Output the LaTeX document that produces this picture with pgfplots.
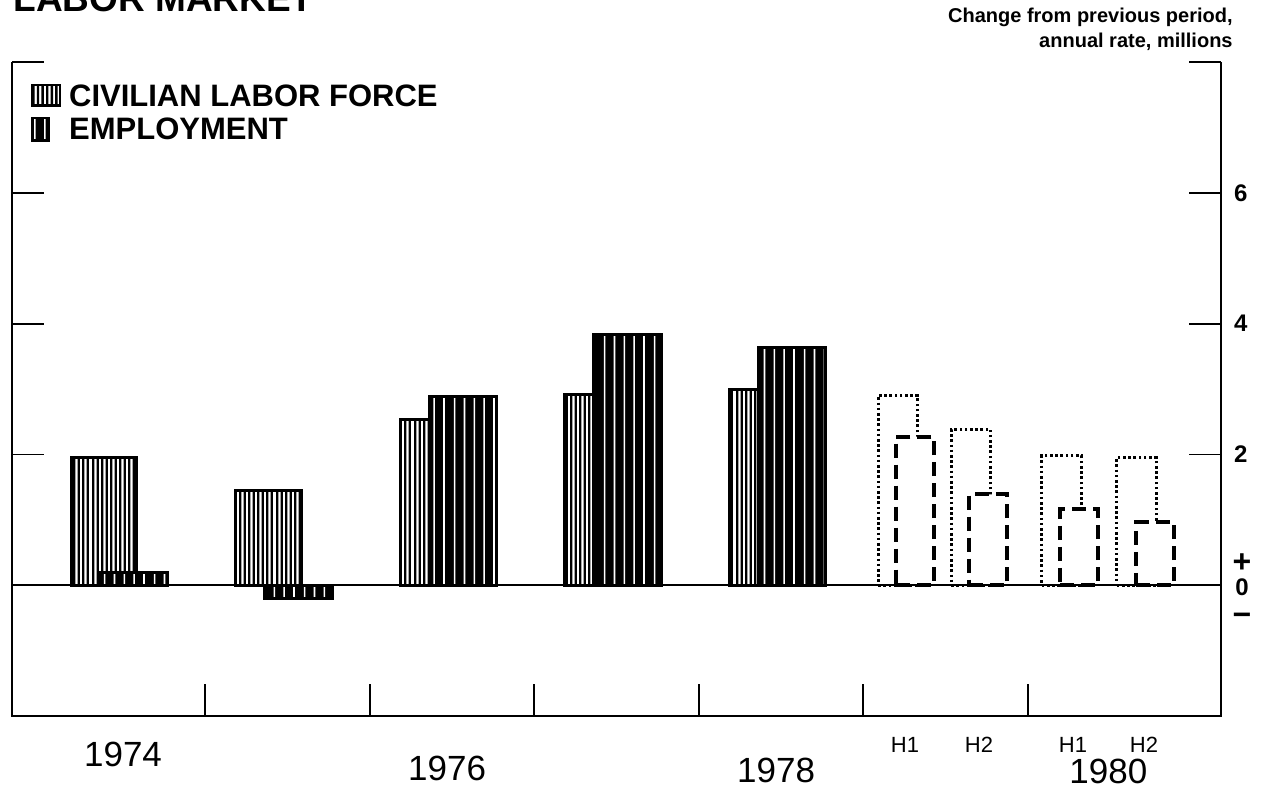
\documentclass[border=0pt]{standalone}
\usepackage{pgfplots}
\pgfplotsset{compat=1.18}
\usepackage{fontspec}
\setmainfont{Liberation Sans}
\usetikzlibrary{patterns}

\pgfdeclarepatterninherentlycolored{lfpat}{\pgfpointorigin}{\pgfqpoint{23pt}{400pt}}{\pgfqpoint{23pt}{400pt}}{%
  \pgfsetfillcolor{white}\pgfpathrectangle{\pgfpointorigin}{\pgfqpoint{23pt}{400pt}}\pgfusepath{fill}%
  \pgfsetfillcolor{black}%
  \foreach \i in {0,...,9}{\pgfpathrectangle{\pgfpoint{\i*2.3pt}{0pt}}{\pgfqpoint{1.2pt}{400pt}}}%
  \pgfusepath{fill}}
\pgfdeclarepatterninherentlycolored{emppat}{\pgfpointorigin}{\pgfqpoint{25pt}{400pt}}{\pgfqpoint{25pt}{400pt}}{%
  \pgfsetfillcolor{black}\pgfpathrectangle{\pgfpointorigin}{\pgfqpoint{25pt}{400pt}}\pgfusepath{fill}%
  \pgfsetfillcolor{white}%
  \foreach \i in {0,...,4}{\pgfpathrectangle{\pgfpoint{\i*5pt+2pt}{0pt}}{\pgfqpoint{0.8pt}{400pt}}}%
  \pgfusepath{fill}}

\newcommand\legfont{\bfseries\fontsize{15.5}{18}\selectfont}
\newcommand\yearfont{\fontsize{17.5}{19}\selectfont}
\newcommand\hfont{\fontsize{11}{13}\selectfont}
\newcommand\tickfont{\bfseries\fontsize{12}{14}\selectfont}
\newcommand\pmfont{\bfseries\fontsize{16}{16}\selectfont}

\pgfplotstableread{
x y
1973.884 1.95
1974.884 1.45
1975.884 2.53
1976.884 2.92
1977.884 3.00
}\lfsolid
\pgfplotstableread{
x y
1974.067 0.20
1975.067 -0.20
1976.067 2.88
1977.067 3.83
1978.067 3.63
}\empsolid
\pgfplotstableread{
x y
1978.711 2.90
1979.155 2.38
1979.705 1.98
1980.161 1.95
}\lfproj
\pgfplotstableread{
x y
1978.815 2.27
1979.258 1.39
1979.812 1.16
1980.274 0.96
}\empproj

\begin{document}
\begin{tikzpicture}
\begin{axis}[
  at={(6pt,36pt)}, anchor=south west,
  scale only axis, width=604.5pt, height=327pt,
  xmin=1973.325, xmax=1980.675, ymin=-2, ymax=8,
  axis line style={draw=none},
  xtick={1974.5,1975.5,1976.5,1977.5,1978.5,1979.5}, xticklabels={},
  xtick pos=bottom,
  ytick={2,4,6,8}, ytick pos=both, yticklabel pos=right,
  yticklabels={2,4,6,{}},
  yticklabel style={font=\tickfont, xshift=3pt},
  tick align=inside, major tick length=16pt,
  tick style={black, line width=0.9pt},
  clip=false,
  legend style={at={(0.0155,0.983)}, anchor=north west, draw=none, fill=none,
    inner sep=0pt, font=\legfont, row sep=-2.5pt,
    nodes={inner sep=0.5pt}},
  legend cell align=left,
]
\addplot[ybar, bar width=0.40, bar shift=0pt, draw=black, line width=1.5pt, pattern=lfpat,
  legend image code/.code={\draw[overlay, pattern=lfpat, line width=1.2pt] (0.6pt,-4.4pt) rectangle (14.4pt,5.9pt);\path[draw=none, fill=none] (0pt,0pt) rectangle (18.5pt,11.6pt);}]
  table[x=x,y=y] {\lfsolid};
\addlegendentry{CIVILIAN LABOR FORCE}
\addplot[ybar, bar width=0.41, bar shift=0pt, draw=black, line width=1.5pt, pattern=emppat,
  legend image code/.code={\draw[overlay, pattern=emppat, line width=1.2pt] (0.6pt,-4.9pt) rectangle (8.6pt,6.4pt);\path[draw=none, fill=none] (0pt,0pt) rectangle (18.5pt,12.8pt);}]
  table[x=x,y=y] {\empsolid};
\addlegendentry{EMPLOYMENT}
\addplot[ybar, bar width=0.24, bar shift=0pt, draw=black, fill=white, line width=1.6pt,
  dash pattern=on 1.3pt off 1.3pt, forget plot]
  table[x=x,y=y] {\lfproj};
\addplot[ybar, bar width=0.23, bar shift=0pt, draw=black, fill=white, line width=2pt,
  dash pattern=on 7pt off 3.5pt, forget plot]
  table[x=x,y=y] {\empproj};

\draw[line width=1.1pt] (rel axis cs:0,1) -- (rel axis cs:0,0) -- (rel axis cs:1,0) -- (rel axis cs:1,1);
\draw[line width=1.1pt] (rel axis cs:0,0.2) -- (rel axis cs:1,0.2);

\node[font=\tickfont, anchor=base, inner sep=0pt] at (rel axis cs:1,0.2) [xshift=10.5pt, yshift=-5pt] {0};
\node[font=\pmfont, anchor=base, inner sep=0pt] at (rel axis cs:1,0.2) [xshift=10.5pt, yshift=6.5pt] {+};
\node[font=\pmfont, anchor=base, inner sep=0pt] at (rel axis cs:1,0.2) [xshift=10.5pt, yshift=-20pt] {−};

\node[font=\yearfont, anchor=base] at (axis cs:1974,-2) [yshift=-25pt] {1974};
\node[font=\yearfont, anchor=base] at (axis cs:1975.97,-2) [yshift=-32pt] {1976};
\node[font=\yearfont, anchor=base] at (axis cs:1977.97,-2) [yshift=-33pt] {1978};
\node[font=\yearfont, anchor=base] at (axis cs:1979.99,-2) [yshift=-33.8pt] {1980};
\node[font=\hfont, anchor=base] at (axis cs:1978.754,-2) [yshift=-18pt] {H1};
\node[font=\hfont, anchor=base] at (axis cs:1979.204,-2) [yshift=-18pt] {H2};
\node[font=\hfont, anchor=base] at (axis cs:1979.775,-2) [yshift=-18pt] {H1};
\node[font=\hfont, anchor=base] at (axis cs:1980.207,-2) [yshift=-18pt] {H2};
\end{axis}
\node[anchor=base west, font=\bfseries\fontsize{18.5}{20}\selectfont, inner sep=0pt] at (6.5pt,388pt) {LABOR MARKET};
\node[anchor=base east, font=\bfseries\fontsize{10}{12}\selectfont, inner sep=0pt] at (616.5pt,382.5pt) {Change from previous period,};
\node[anchor=base east, font=\bfseries\fontsize{10}{12}\selectfont, inner sep=0pt] at (616.5pt,370pt) {annual rate, millions};
\pgfresetboundingbox
\useasboundingbox (0,0) rectangle (631pt,394pt);
\end{tikzpicture}
\end{document}
